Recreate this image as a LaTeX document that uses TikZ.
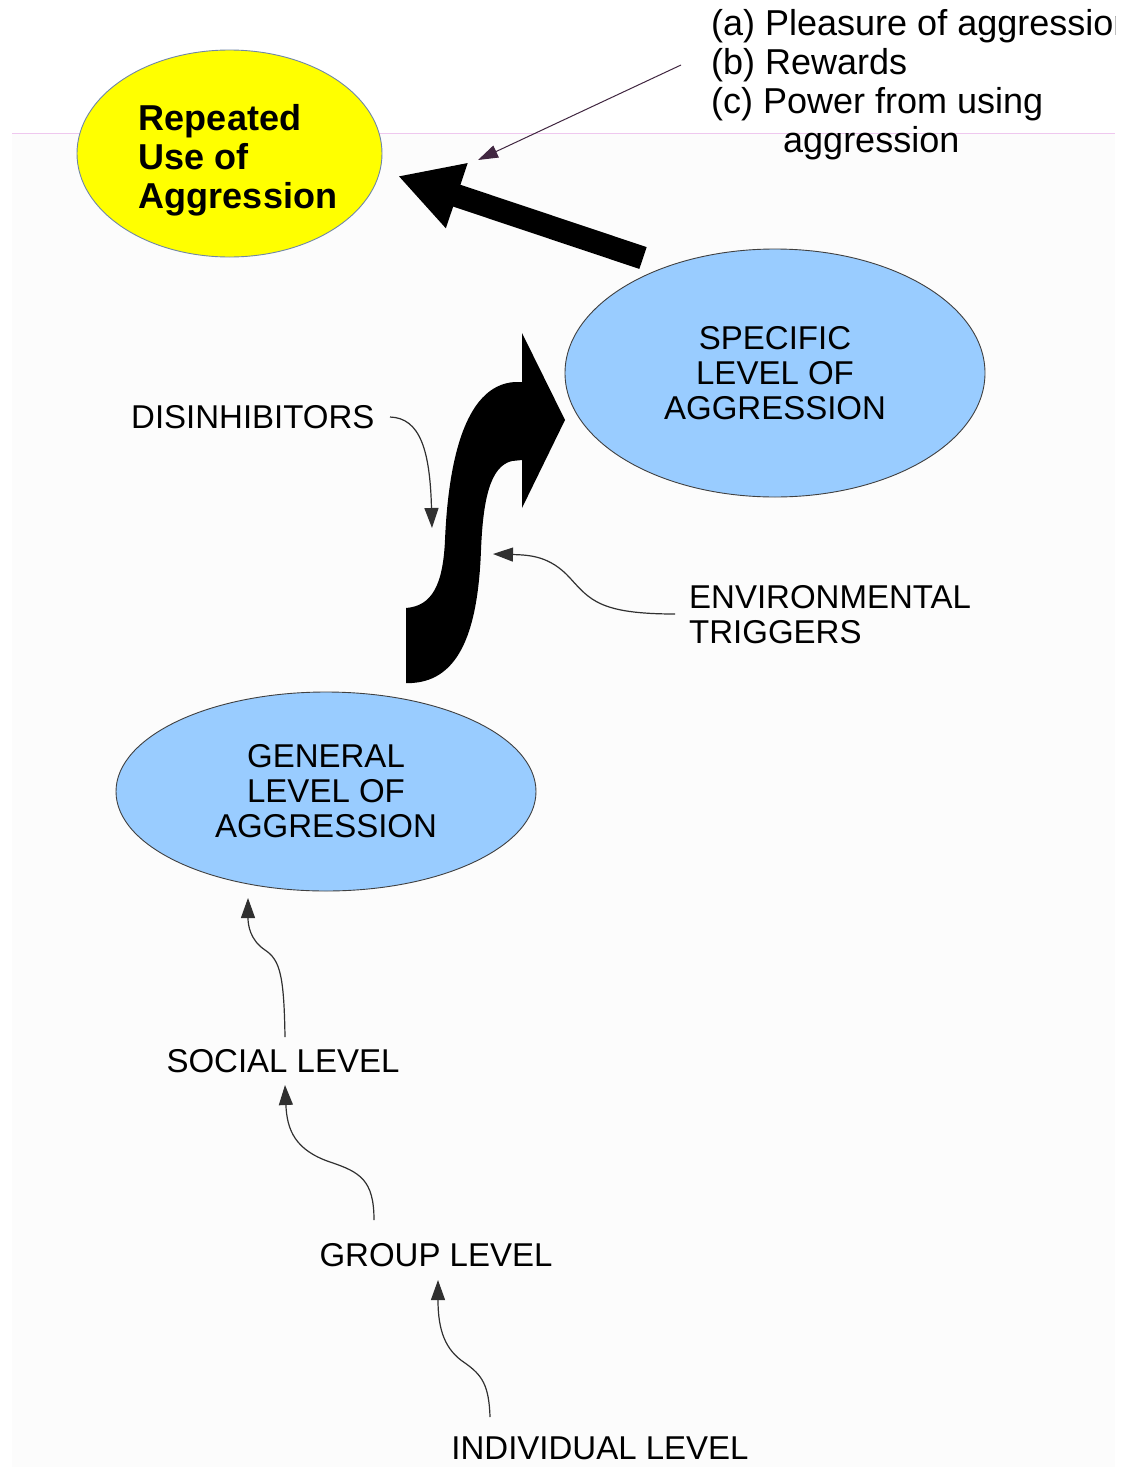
\documentclass[tikz,border=0pt]{standalone}
\usepackage{fontspec}
\setmainfont{Liberation Sans}
\usetikzlibrary{arrows.meta,shapes.geometric}
\definecolor{paleblue}{HTML}{99CCFF}
\definecolor{ellborder}{HTML}{404040}
\definecolor{yborder}{HTML}{6F86A8}
\definecolor{pinkline}{HTML}{EFC8EF}
\definecolor{bggray}{HTML}{FCFCFC}
\definecolor{thinline}{HTML}{303030}
\definecolor{pureyellow}{HTML}{FFFF00}
\tikzset{
  lbl/.style={inner sep=0pt, anchor=base, font=\fontsize{33}{35}\selectfont},
  levelell/.style={ellipse, draw=ellborder, line width=0.9pt, fill=paleblue, inner sep=0pt,
    minimum width=420pt, align=center, font=\fontsize{33}{35}\selectfont},
  thinarrow/.style={draw=thinline, line width=1.2pt, -{Triangle[length=20pt,width=14pt]}},
  reason/.style={inner sep=0pt, anchor=base west, font=\fontsize{36}{39}\selectfont},
}
\begin{document}
\begin{tikzpicture}[x=1pt,y=-1pt]
\useasboundingbox (0,0) rectangle (1126,1467);
\fill[white] (0,0) rectangle (1126,1467);
\fill[bggray] (12,133) rectangle (1115,1467);
\draw[pinkline, line width=0.8pt] (12,133) -- (1115,133);

% ellipses
\node[ellipse, draw=yborder, line width=0.9pt, fill=pureyellow, minimum width=305pt, minimum height=207pt, inner sep=0pt] (rep) at (229.5,153.5) {};
\node[inner sep=0pt, align=left, font=\fontsize{36}{39}\selectfont\bfseries] (reptext) at (238,160) {Repeated\\Use of\\Aggression};

\node[levelell, minimum height=248pt] (spec) at (775,373) {SPECIFIC\\LEVEL OF\\AGGRESSION};
\node[levelell, minimum height=199pt] (gen) at (326,791.5) {GENERAL\\LEVEL OF\\AGGRESSION};

% reasons text (the first line runs off the right edge, as in the reference)
\begin{scope}
\clip (0,0) rectangle (1115,200);
\node[reason] (ra) at (711,35) {(a) Pleasure of aggression};
\end{scope}
\node[reason] (rb) at (711,74) {(b) Rewards};
\node[reason] (rc) at (711,113) {(c) Power from using};
\node[reason] (rd) at (783,152) {aggression};

% labels
\node[lbl, anchor=base west] (dis) at (131,428) {DISINHIBITORS};
\node[lbl, anchor=base west] (env1) at (689,608) {ENVIRONMENTAL};
\node[lbl, anchor=base west] (env2) at (689,643) {TRIGGERS};
\node[lbl] (soc) at (283,1072) {SOCIAL LEVEL};
\node[lbl] (grp) at (436,1266) {GROUP LEVEL};
\node[lbl] (ind) at (600,1459) {INDIVIDUAL LEVEL};

% coordinates for connectors
\coordinate (rs) at (681,65);
\coordinate (re) at (478,160);
\coordinate (bs) at (643,258);
\coordinate (be) at (398,176);
\coordinate (ds) at (390,417);
\coordinate (de) at (432,528);
\coordinate (es) at (675,614);
\coordinate (ee) at (493,554);
\coordinate (ss) at (285,1037);
\coordinate (se) at (248,898);
\coordinate (gs) at (374,1220);
\coordinate (ge) at (285,1085);
\coordinate (is) at (490,1417);
\coordinate (ie) at (438,1280);

% thin arrow from reasons
\draw[draw=thinline!80!violet, line width=1pt, -{Triangle[length=20pt,width=13pt]}] (rs) -- (re);

% big straight arrow
\draw[line width=23pt, -{Triangle[length=62pt,width=64pt]}] (bs) -- (be);

% big S-shaped arrow
\fill[black] (406,683) -- (406,608)
  .. controls (432,606) and (443,585) .. (445,540)
  .. controls (448,470) and (462,385) .. (515,382)
  -- (522,382) -- (522,333) -- (565,420) -- (522,508) -- (522,460) -- (512,461)
  .. controls (490,466) and (483,500) .. (481,550)
  .. controls (478,630) and (460,680) .. (412,683) -- cycle;

% thin curvy arrows
\draw[thinarrow] (ds) .. controls (420,418) and (430,450) .. (de);
\draw[thinarrow] (es) .. controls (600,614) and (590,600) .. (570,578)
  .. controls (550,556) and (530,555) .. (ee);
\draw[thinarrow] (ss) .. controls (284,975) and (280,960) .. (265,950)
  .. controls (250,940) and (248,925) .. (se);
\draw[thinarrow] (gs) .. controls (374,1180) and (360,1172) .. (330,1162)
  .. controls (295,1150) and (287,1130) .. (ge);
\draw[thinarrow] (is) .. controls (489,1385) and (482,1375) .. (465,1363)
  .. controls (445,1350) and (438,1330) .. (ie);
\end{tikzpicture}
\end{document}
